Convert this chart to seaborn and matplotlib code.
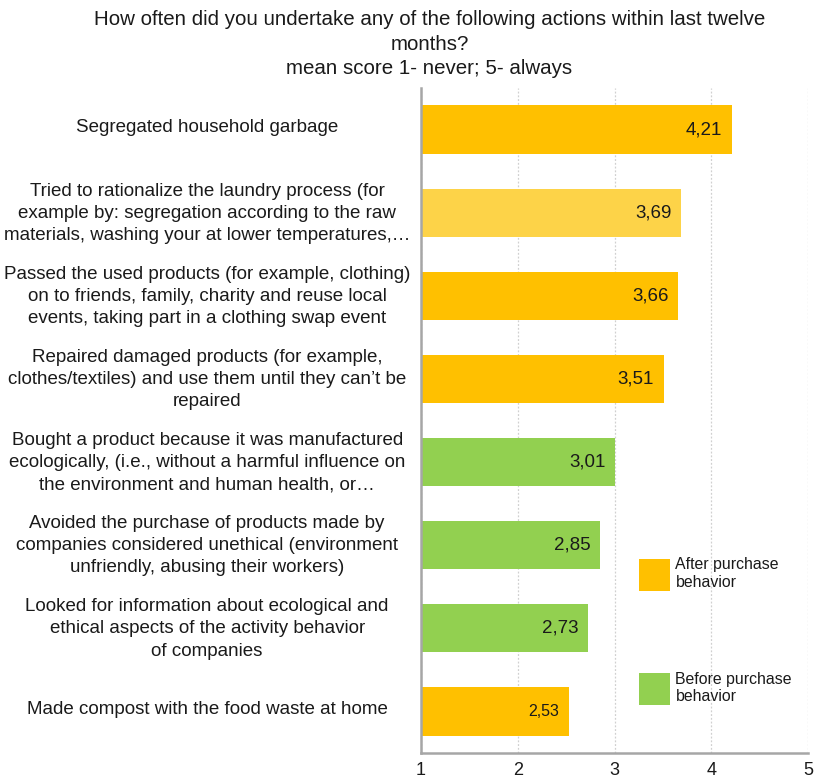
import matplotlib
matplotlib.use("Agg")
import matplotlib.pyplot as plt
import matplotlib.transforms as mtransforms
from matplotlib.patches import Patch
import seaborn as sns
import pandas as pd

# Survey items (top to bottom) and their mean scores
actions = [
    "Segregated household garbage",
    "Tried to rationalize the laundry process (for\nexample by: segregation according to the raw\nmaterials, washing your at lower temperatures,…",
    "Passed the used products (for example, clothing)\non to friends, family, charity and reuse local\nevents, taking part in a clothing swap event",
    "Repaired damaged products (for example,\nclothes/textiles) and use them until they can’t be\nrepaired",
    "Bought a product because it was manufactured\necologically, (i.e., without a harmful influence on\nthe environment and human health, or…",
    "Avoided the purchase of products made by\ncompanies considered unethical (environment\nunfriendly, abusing their workers)",
    "Looked for information about ecological and\nethical aspects of the activity behavior\nof companies",
    "Made compost with the food waste at home",
]
scores = [4.21, 3.69, 3.66, 3.51, 3.01, 2.85, 2.73, 2.53]
bar_colors = ["#FFC000", "#FDD348", "#FFC000", "#FFC000",
              "#92D050", "#92D050", "#92D050", "#FFC000"]
ticks = [1, 2, 3, 4, 5]
legend_labels = ["After purchase\nbehavior", "Before purchase\nbehavior"]
legend_colors = ["#FFC000", "#92D050"]

df = pd.DataFrame({"action": actions, "score": scores})

plt.rcParams["font.family"] = ["Liberation Sans", "DejaVu Sans"]
fig = plt.figure(figsize=(8.15, 7.82), dpi=100)
ax = fig.add_axes([0.5166, 0.0371, 0.4748, 0.8504])

sns.barplot(data=df, x="score", y="action", hue="action",
            palette=bar_colors, legend=False, orient="h",
            width=0.58, saturation=1, ax=ax)

ax.set_xlim(1, 5)
ax.set_ylim(7.5, -0.5)
ax.set_xticks(ticks)
ax.set_xticklabels([str(t) for t in ticks], fontsize=13)
ax.set_xlabel("")
ax.set_ylabel("")

# light dotted verticals
ax.set_axisbelow(True)
ax.xaxis.grid(True, color="#D0D0D0", linestyle=(0, (1.5, 1.5)), linewidth=0.9)
ax.yaxis.grid(False)

for side in ["top", "right"]:
    ax.spines[side].set_visible(False)
ax.spines["left"].set_color("#A6A6A6")
ax.spines["left"].set_linewidth(1.8)
ax.spines["bottom"].set_color("#A6A6A6")
ax.spines["bottom"].set_linewidth(1.8)
ax.tick_params(axis="both", length=0)
ax.tick_params(axis="x", pad=6.5, colors="#1a1a1a")
ax.tick_params(axis="y", pad=154)
lift = mtransforms.ScaledTranslation(0, 4 / 100, fig.dpi_scale_trans)
for lab in ax.get_yticklabels():
    lab.set_horizontalalignment("center")
    lab.set_fontsize(13.5)
    lab.set_linespacing(1.4)
    lab.set_color("#1a1a1a")
    lab.set_transform(lab.get_transform() + lift)

# value labels just inside the bar ends
for i, v in enumerate(scores):
    size = 11.5 if i == len(scores) - 1 else 13.5
    ax.annotate(f"{v:.2f}".replace(".", ","), xy=(v, i),
                xytext=(-7, 0), textcoords="offset points",
                ha="right", va="center", fontsize=size, color="#1a1a1a")

handles = [Patch(facecolor=col, edgecolor="none") for col in legend_colors]
leg = ax.legend(handles, legend_labels, loc="upper left",
                bbox_to_anchor=(0.563, 0.294), frameon=False,
                borderpad=0, borderaxespad=0,
                fontsize=11.4, handlelength=1.96, handleheight=2.75,
                handletextpad=0.35, labelspacing=5.1)
for t in leg.get_texts():
    t.set_color("#1a1a1a")

fig.text(0.527, 0.987,
         "How often did you undertake any of the following actions within last twelve\n"
         "months?\nmean score 1- never; 5- always",
         ha="center", va="top", fontsize=14.8, linespacing=1.36, color="#1a1a1a")

fig.savefig("out.png", dpi=100)
